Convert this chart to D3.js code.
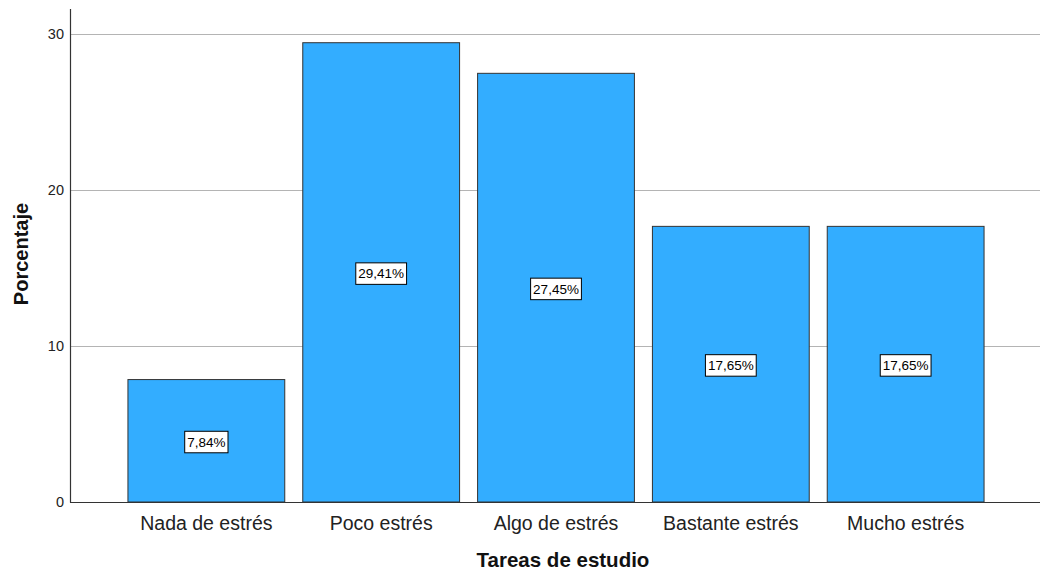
<!DOCTYPE html>
<html><head><meta charset="utf-8">
<script src="https://cdn.jsdelivr.net/npm/d3@7"></script>
<style>body{margin:0;background:#fff;} text{font-family:"Liberation Sans",Arial,sans-serif;}</style>
</head><body>
<svg id="c" width="1040" height="572"></svg>
<script>
const categories = ["Nada de estrés","Poco estrés","Algo de estrés","Bastante estrés","Mucho estrés"];
const values = [7.84, 29.41, 27.45, 17.65, 17.65];
const labels = ["7,84%","29,41%","27,45%","17,65%","17,65%"];
const yTicks = [0, 10, 20, 30];
const xTitle = "Tareas de estudio";
const yTitle = "Porcentaje";

(function(){
const svg = d3.select("#c");
const mLeft = 70, mRight = 1040, mTop = 9, mBottom = 502;
const x = d3.scaleBand().domain(categories).range([72, mRight]).paddingInner(0.103).paddingOuter(0.32);
const y = d3.scaleLinear().domain([0, 30]).range([mBottom, 33.5]);

// gridlines
svg.append("g").selectAll("line").data(yTicks.filter(d => d > 0)).join("line")
  .attr("x1", mLeft).attr("x2", mRight)
  .attr("y1", d => Math.round(y(d)) + 0.5).attr("y2", d => Math.round(y(d)) + 0.5)
  .attr("stroke", "#b4b4b4").attr("stroke-width", 1);

// bars
svg.append("g").selectAll("rect").data(values).join("rect")
  .attr("x", (d, i) => x(categories[i]))
  .attr("y", d => y(d))
  .attr("width", x.bandwidth())
  .attr("height", d => mBottom - y(d))
  .attr("fill", "#33adff").attr("stroke", "#333").attr("stroke-width", 1);

// value labels
const lg = svg.append("g").selectAll("g").data(values).join("g")
  .attr("transform", (d, i) => `translate(${x(categories[i]) + x.bandwidth() / 2},${(y(d) + mBottom) / 2 + 1})`);
lg.each(function(d, i) {
  const g = d3.select(this);
  const t = g.append("text").text(labels[i]).attr("text-anchor", "middle").attr("dy", "0.36em")
    .attr("font-size", 13.5).attr("fill", "#000");
  const bb = t.node().getBBox();
  g.insert("rect", "text").attr("x", bb.x - 2.5).attr("y", -10.5).attr("width", bb.width + 5).attr("height", 21.5)
    .attr("fill", "#fff").attr("stroke", "#000").attr("stroke-width", 1);
});

// y axis
const ya = svg.append("g").attr("transform", `translate(${mLeft},0)`)
  .call(d3.axisLeft(y).tickValues(yTicks).tickSize(0).tickPadding(6).tickFormat(d3.format("d")));
ya.select(".domain").remove();
ya.selectAll("text").attr("fill", "#222").attr("font-size", 14.5);
svg.append("line").attr("x1", mLeft + 0.5).attr("x2", mLeft + 0.5).attr("y1", mTop).attr("y2", mBottom + 0.5)
  .attr("stroke", "#333").attr("stroke-width", 1.2);

// x axis
const xa = svg.append("g").attr("transform", `translate(0,${mBottom})`)
  .call(d3.axisBottom(x).tickSize(0).tickPadding(14.5));
xa.select(".domain").remove();
xa.selectAll("text").attr("font-size", 19.5).attr("fill", "#222");
svg.append("line").attr("x1", mLeft).attr("x2", mRight).attr("y1", mBottom + 0.5).attr("y2", mBottom + 0.5)
  .attr("stroke", "#333").attr("stroke-width", 1.2);

// titles
svg.append("text").text(xTitle).attr("x", 563).attr("y", 567)
  .attr("text-anchor", "middle").attr("font-size", 20.5).attr("font-weight", "bold").attr("fill", "#111");
svg.append("text").text(yTitle).attr("transform", `translate(28,254) rotate(-90)`)
  .attr("text-anchor", "middle").attr("font-size", 20).attr("font-weight", "bold").attr("fill", "#111");
})();
</script>
</body></html>
